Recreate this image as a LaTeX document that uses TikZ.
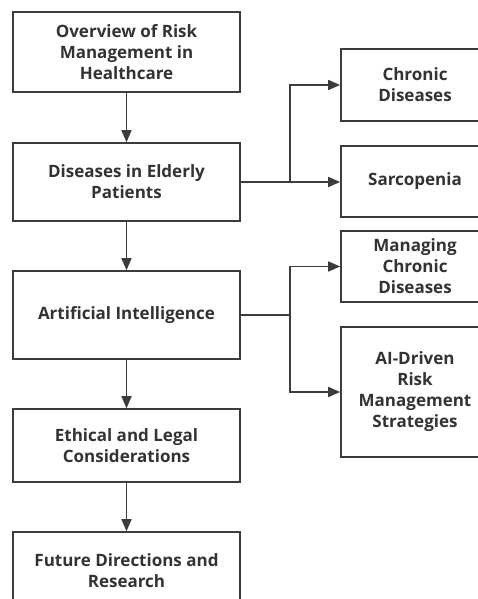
\documentclass[tikz,border=0pt]{standalone}
\usepackage{fontspec}
\setmainfont{Open Sans}
\usetikzlibrary{arrows.meta}
\definecolor{linec}{HTML}{3C3C3C}
\definecolor{textc}{HTML}{333333}
\begin{document}
\begin{tikzpicture}[x=1pt,y=-1pt,
  box/.style={draw=linec, line width=1.6pt, fill=white, align=center,
    font=\bfseries\fontsize{17}{21}\selectfont, text=textc, inner sep=0pt},
  conn/.style={draw=linec, line width=1.6pt},
  arr/.style={conn, -{Triangle[length=12pt,width=10pt]}}]
\useasboundingbox (0,0) rectangle (478,599);
\clip (0,0) rectangle (478,599);
% left column
\node[box, minimum width=227pt, minimum height=80pt] (b1) at (126.5,52) {Overview of Risk\\Management in\\Healthcare};
\node[box, minimum width=227pt, minimum height=78pt] (b2) at (126.5,182) {Diseases in Elderly\\Patients};
\node[box, minimum width=227pt, minimum height=88pt] (b3) at (126.5,315) {Artificial Intelligence};
\node[box, minimum width=227pt, minimum height=73pt] (b4) at (126.5,445.5) {Ethical and Legal\\Considerations};
\node[box, minimum width=227pt, minimum height=78pt] (b5) at (126.5,571) {Future Directions and\\Research};
% right column
\node[box, minimum width=148pt, minimum height=72pt] (r1) at (415,85) {Chronic\\Diseases};
\node[box, minimum width=148pt, minimum height=71pt] (r2) at (415,181.5) {Sarcopenia};
\node[box, minimum width=148pt, minimum height=71pt] (r3) at (415,266.5) {Managing\\Chronic\\Diseases};
\node[box, minimum width=148pt, minimum height=130pt] (r4) at (415,392) {AI-Driven\\Risk\\Management\\Strategies};
% vertical arrows
\draw[arr] (b1) -- (b2);
\draw[arr] (b2) -- (b3);
\draw[arr] (b3) -- (b4);
\draw[arr] (b4) -- (b5);
% branches
\coordinate (j1) at (290,182);
\coordinate (j2) at (290,315);
\draw[conn] (b2.east |- j1) -- (j1);
\draw[arr] (j1) |- (r1.west);
\draw[arr] (j1) -- (r2.west |- j1);
\draw[conn] (b3.east |- j2) -- (j2);
\draw[arr] (j2) |- (r3.west);
\draw[arr] (j2) |- (r4.west);
\end{tikzpicture}
\end{document}
